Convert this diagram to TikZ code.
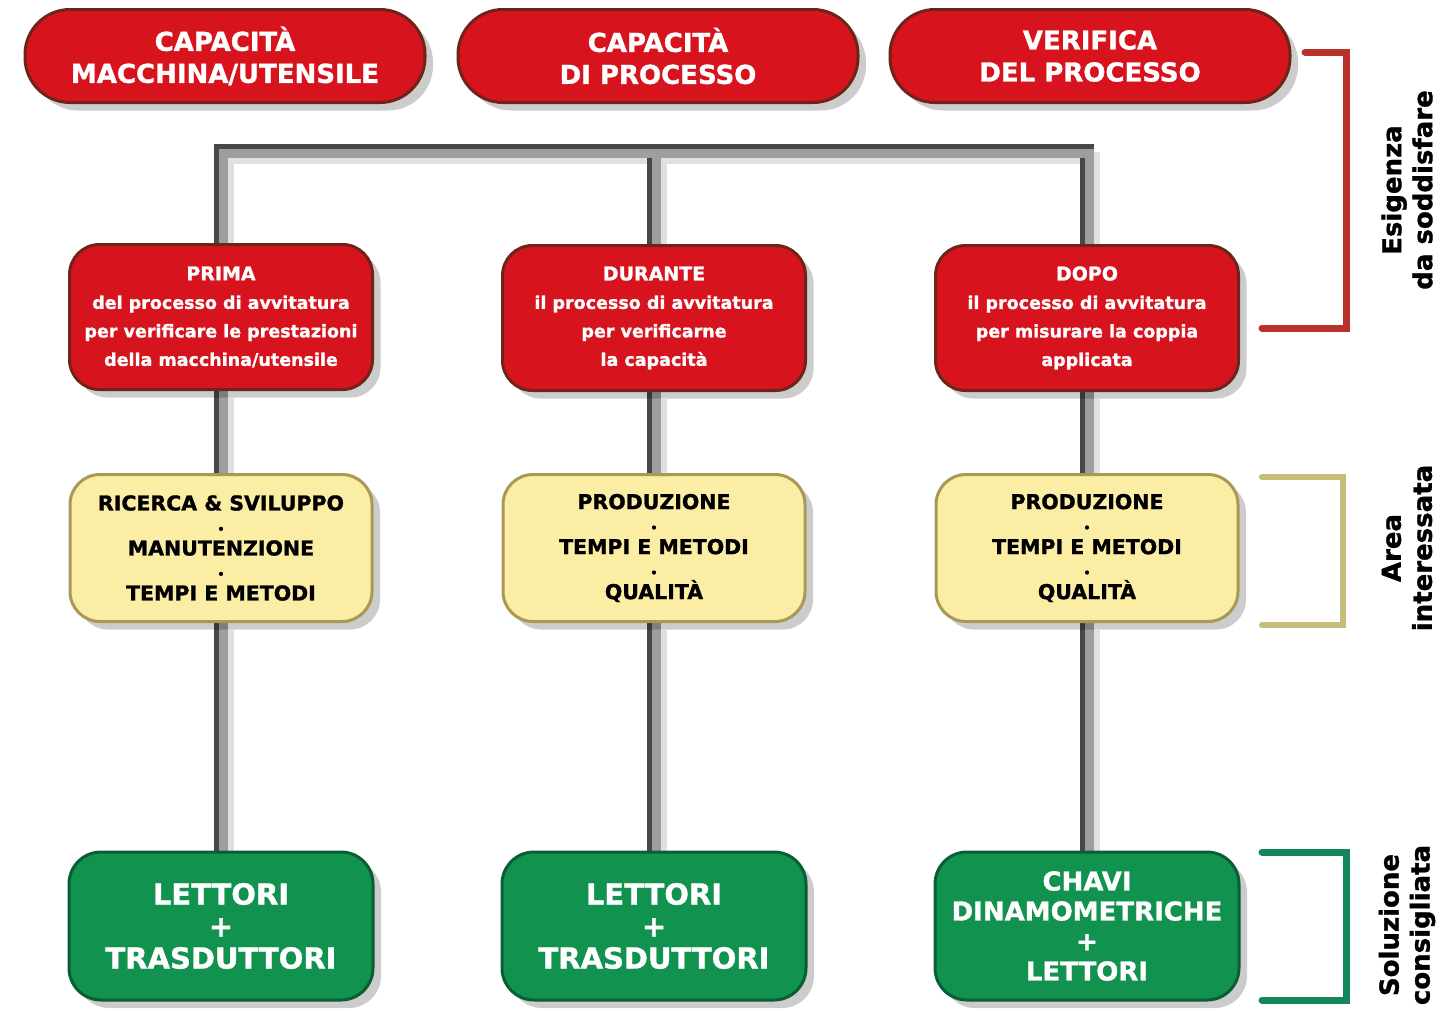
\documentclass[tikz,border=0pt]{standalone}
\usepackage{fontspec}
\setmainfont{DejaVu Sans}[BoldFeatures={FakeBold=1.2}]
\usetikzlibrary{shadows,backgrounds}
\definecolor{redfill}{HTML}{D7141E}
\definecolor{redborder}{HTML}{6E2418}
\definecolor{yelfill}{HTML}{FBEDA4}
\definecolor{yelborder}{HTML}{A89A55}
\definecolor{grnfill}{HTML}{12924F}
\definecolor{grnborder}{HTML}{0A5E35}
\definecolor{redbr}{HTML}{B8322A}
\definecolor{yelbr}{HTML}{C4BC78}
\definecolor{grnbr}{HTML}{13875A}
\begin{document}
\begin{tikzpicture}[x=1pt,y=-1pt,
  base/.style={line width=3, align=center, inner sep=0,
    drop shadow={shadow xshift=8pt, shadow yshift=-8pt, opacity=0.2, fill=black}},
  topbox/.style={base, fill=redfill, draw=redborder, text=white,
    minimum width=400, minimum height=93, rounded corners=45,
    font=\bfseries\fontsize{26}{32}\selectfont},
  phasebox/.style={base, fill=redfill, draw=redborder, text=white,
    minimum width=303, minimum height=145, rounded corners=30,
    font=\bfseries\fontsize{17.5}{28.5}\selectfont},
  areabox/.style={base, fill=yelfill, draw=yelborder, text=black,
    minimum width=302, minimum height=147, rounded corners=30,
    font=\bfseries\fontsize{20.5}{22.5}\selectfont},
  solbox/.style={base, fill=grnfill, draw=grnborder, text=white,
    minimum width=304, minimum height=148, rounded corners=32,
    font=\bfseries\fontsize{29}{32}\selectfont},
  connshadow/.style={draw=black!12, line width=12, transform canvas={xshift=7, yshift=-7}},
  connbody/.style={draw=black!38, line width=14},
  connedge/.style={draw=black!72, line width=5},
  brk/.style={line width=7, line cap=round, line join=miter},
  sidelabel/.style={rotate=90, align=center, text=black,
    font=\bfseries\fontsize{26}{31}\selectfont}
]
\useasboundingbox (0,0) rectangle (1445,1010);

% top row
\node[topbox] (t1) at (225,56) {CAPACITÀ\\MACCHINA/UTENSILE};
\node[topbox] (t2) at (658,56) {CAPACITÀ\\DI PROCESSO};
\node[topbox] (t3) at (1090,56) {VERIFICA\\DEL PROCESSO};

% junction coordinates
\coordinate (b1) at (221,151);
\coordinate (b2) at (654,151);
\coordinate (b3) at (1087,151);

% phase row
\node[phasebox] (p1) at (221,317) {{\fontsize{19}{28.5}\selectfont PRIMA}\\del processo di avvitatura\\per verificare le prestazioni\\della macchina/utensile};
\node[phasebox] (p2) at (654,318) {{\fontsize{19}{28.5}\selectfont DURANTE}\\il processo di avvitatura\\per verificarne\\la capacità};
\node[phasebox] (p3) at (1087,318) {{\fontsize{19}{28.5}\selectfont DOPO}\\il processo di avvitatura\\per misurare la coppia\\applicata};

% area row
\node[areabox] (a1) at (221,548) {RICERCA \& SVILUPPO\\{\fontsize{11}{22.5}\selectfont •}\\MANUTENZIONE\\{\fontsize{11}{22.5}\selectfont •}\\TEMPI E METODI};
\node[areabox] (a2) at (654,548) {PRODUZIONE\\{\fontsize{11}{22.5}\selectfont •}\\TEMPI E METODI\\{\fontsize{11}{22.5}\selectfont •}\\QUALITÀ};
\node[areabox] (a3) at (1087,548) {PRODUZIONE\\{\fontsize{11}{22.5}\selectfont •}\\TEMPI E METODI\\{\fontsize{11}{22.5}\selectfont •}\\QUALITÀ};

% solution row
\node[solbox] (s1) at (221,926) {LETTORI\\+\\TRASDUTTORI};
\node[solbox] (s2) at (654,926) {LETTORI\\+\\TRASDUTTORI};
\node[solbox, font=\bfseries\fontsize{26}{30}\selectfont] (s3) at (1087,926) {CHAVI\\DINAMOMETRICHE\\+\\LETTORI};

% connectors
\begin{pgfonlayer}{background}
\draw[connshadow] (s1) -- (a1) -- (p1) -- (b1) -- (b3) -- (p3) -- (a3) -- (s3);
\draw[connshadow] (b2) -- (p2) -- (a2) -- (s2);
\draw[connbody] (s1) -- (a1) -- (p1) -- (b1) -- (b3) -- (p3) -- (a3) -- (s3);
\draw[connbody] (b2) -- (p2) -- (a2) -- (s2);
\draw[connedge, transform canvas={yshift=4.5}] ([xshift=-7]b1) -- ([xshift=7]b3);
\draw[connedge, transform canvas={xshift=-4.5}] (s1) -- (a1) -- (p1) -- ([yshift=7]b1);
\draw[connedge, transform canvas={xshift=-4.5}] (s2) -- (a2) -- (p2) -- ([yshift=-7]b2);
\draw[connedge, transform canvas={xshift=-4.5}] (s3) -- (a3) -- (p3) -- ([yshift=-7]b3);
\end{pgfonlayer}

% brackets
\draw[brk, redbr] (1305,52) -| (1346,328) -- (1262,328);
\draw[brk, yelbr, line width=6] (1262,477) -| (1343,625) -- (1262,625);
\draw[brk, grnbr] (1262,852) -| (1346,1000) -- (1262,1000);

% side labels
\node[sidelabel] (l1) at (1407,190) {Esigenza\\da soddisfare};
\node[sidelabel] (l2) at (1407,548) {Area\\interessata};
\node[sidelabel] (l3) at (1407,925) {Soluzione\\consigliata};
\end{tikzpicture}
\end{document}
